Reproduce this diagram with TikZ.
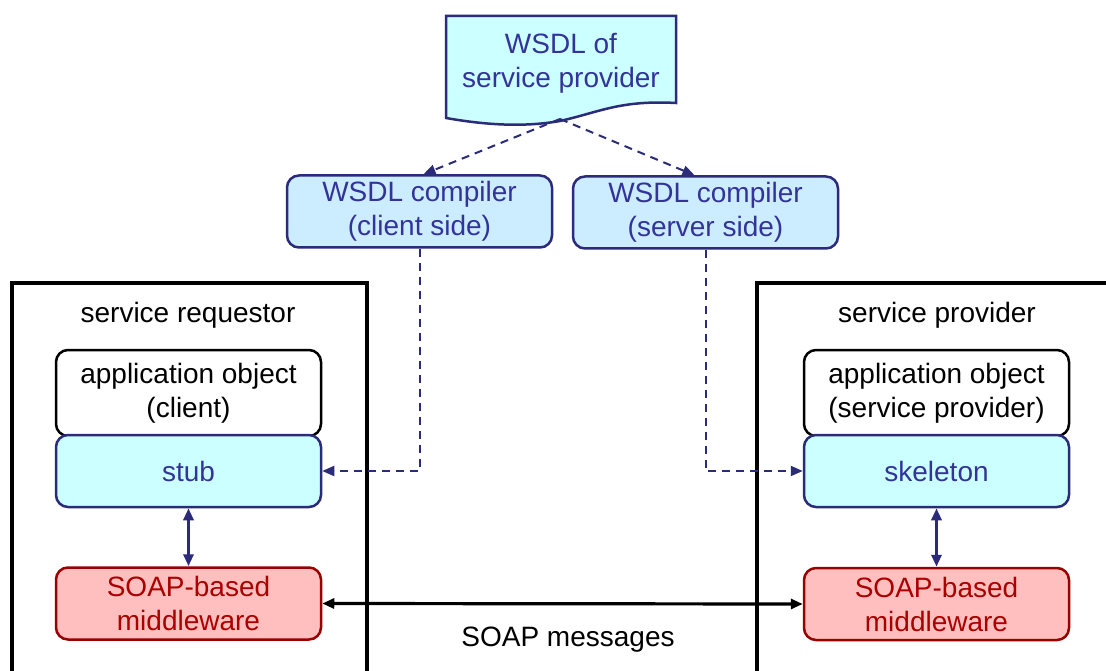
\documentclass[tikz,border=0pt]{standalone}
\usepackage{fontspec}
\setmainfont{Liberation Sans}
\usetikzlibrary{arrows.meta}
\definecolor{navy}{RGB}{43,43,122}
\definecolor{navytext}{RGB}{51,51,153}
\definecolor{cyanfill}{RGB}{204,255,255}
\definecolor{bluefill}{RGB}{204,236,255}
\definecolor{pinkfill}{RGB}{255,191,191}
\definecolor{darkred}{RGB}{153,0,0}
\definecolor{redtext}{RGB}{170,0,0}
\begin{document}
\begin{tikzpicture}[x=1pt,y=-1pt,
  txt/.style={font=\fontsize{28}{34}\selectfont, align=center, inner sep=0pt},
  box/.style={txt, rounded corners=12pt, minimum width=265pt, minimum height=72pt, line width=2.5pt},
  compbox/.style={box, draw=navy, fill=bluefill, text=navytext},
  cyanbox/.style={box, draw=navy, fill=cyanfill, text=navytext},
  appbox/.style={box, draw=black, fill=white, text=black, minimum height=86pt},
  soapbox/.style={box, draw=darkred, fill=pinkfill, text=redtext},
  dasharrow/.style={draw=navy, line width=2pt, dash pattern=on 8pt off 6pt, -{Triangle[length=12pt,width=10pt]}},
  navyarrow/.style={draw=navy, line width=3.2pt, {Triangle[length=12pt,width=10pt]}-{Triangle[length=12pt,width=10pt]}},
  blackarrow/.style={draw=black, line width=3.2pt, {Triangle[length=12pt,width=10pt]}-{Triangle[length=12pt,width=10pt]}},
  frame/.style={draw=black, line width=4.5pt}
]
\clip (0,0) rectangle (1106,671);
\fill[white] (0,0) rectangle (1106,671);

% service boxes
\draw[frame] (12,690) -- (12,283) -- (367,283) -- (367,690);
\draw[frame] (757,690) -- (757,283) -- (1130,283);
\node[txt] (reqlabel) at (188,315) {service requestor};
\node[txt] (provlabel) at (937,315) {service provider};

% WSDL document
\draw[draw=navy, fill=cyanfill, line width=2.5pt] (446,16) -- (676,16) -- (676,103)
  .. controls (620,100) and (600,112) .. (560,121)
  .. controls (520,128) and (480,124) .. (446,118) -- cycle;
\node[txt, text=navytext] (wsdl) at (561,63) {WSDL of\\service provider};
\coordinate (wsdlb) at (560,119);

% compilers
\node[compbox] (compC) at (419.5,211.5) {WSDL compiler\\(client side)};
\node[compbox] (compS) at (705.5,212.5) {WSDL compiler\\(server side)};

% client side
\node[appbox] (appC) at (188.5,393) {application object\\(client)};
\node[cyanbox] (stub) at (188.5,471) {stub};
\node[soapbox] (soapL) at (188.5,603.5) {SOAP-based\\middleware};

% server side
\node[appbox] (appS) at (936.5,393) {application object\\(service provider)};
\node[cyanbox] (skel) at (936.5,471) {skeleton};
\node[soapbox] (soapR) at (936.5,604) {SOAP-based\\middleware};

% connectors
\draw[dasharrow] (wsdlb) -- ([xshift=4pt]compC.north);
\draw[dasharrow] (wsdlb) -- ([xshift=-11pt]compS.north);
\draw[dasharrow] (compC.south) |- (stub.east);
\draw[dasharrow] (compS.south) |- (skel.west);
\draw[navyarrow] (stub.south) -- (soapL.north);
\draw[navyarrow] (skel.south) -- (soapR.north);
\draw[blackarrow] (soapL.east) -- (soapR.west);
\node[txt] (msg) at (568,640) {SOAP messages};
\end{tikzpicture}
\end{document}
